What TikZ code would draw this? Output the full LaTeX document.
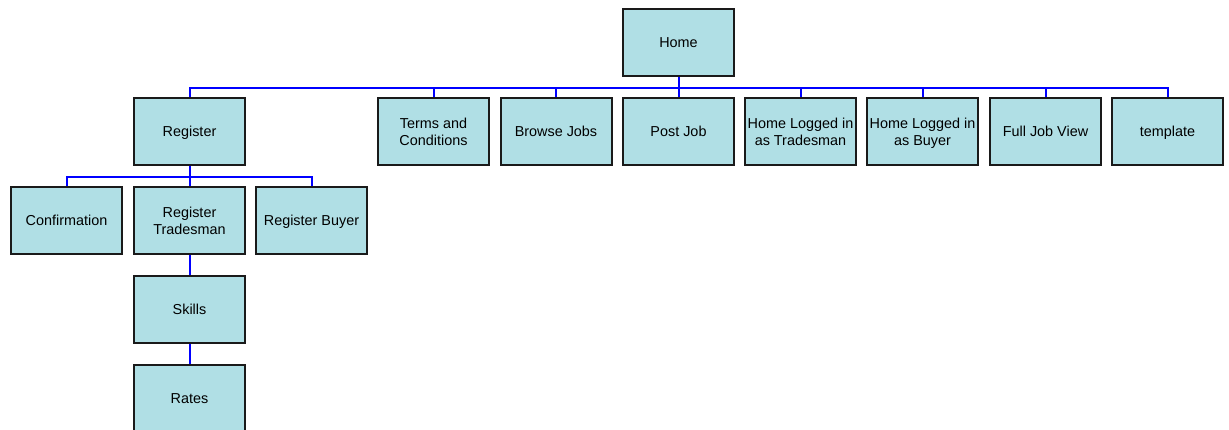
\documentclass[tikz,border=0pt]{standalone}
\usepackage{fontspec}
\setmainfont{Liberation Sans}
\definecolor{boxfill}{HTML}{B0DFE5}
\definecolor{boxline}{HTML}{1A1A1A}
\definecolor{conn}{HTML}{0000FF}
\newcommand{\lstrut}{\rule[-3.1pt]{0pt}{17pt}}
\newcommand{\lbl}[1]{\lstrut#1\lstrut}
\begin{document}
\begin{tikzpicture}[x=1pt,y=1pt,
  pagebox/.style={draw=boxline, line width=2pt, fill=boxfill, minimum width=111pt, minimum height=67pt, inner sep=0pt, align=center, font=\fontsize{14.4}{17}\selectfont},
  link/.style={draw=conn, line width=2pt}]
\useasboundingbox (0,0) rectangle (1229,-430);
\node[pagebox] (home) at (678.5,-42.5) {\lbl{Home}};
\node[pagebox] (register) at (189.5,-131.5) {\lbl{Register}};
\node[pagebox] (terms) at (433.5,-131.5) {\lbl{Terms and}\\\lbl{Conditions}};
\node[pagebox] (browse) at (556,-131.5) {\lbl{Browse Jobs}};
\node[pagebox] (post) at (678.5,-131.5) {\lbl{Post Job}};
\node[pagebox] (hlt) at (800.5,-131.5) {\lbl{Home Logged in}\\\lbl{as Tradesman}};
\node[pagebox] (hlb) at (922.5,-131.5) {\lbl{Home Logged in}\\\lbl{as Buyer}};
\node[pagebox] (full) at (1045.5,-131.5) {\lbl{Full Job View}};
\node[pagebox] (tmpl) at (1167.5,-131.5) {\lbl{template}};
\node[pagebox] (conf) at (66.5,-220.5) {\lbl{Confirmation}};
\node[pagebox] (regt) at (189.5,-220.5) {\lbl{Register}\\\lbl{Tradesman}};
\node[pagebox] (regb) at (311.5,-220.5) {\lbl{Register Buyer}};
\node[pagebox] (skills) at (189.5,-309.5) {\lbl{Skills}};
\node[pagebox] (rates) at (189.5,-398.5) {\lbl{Rates}};
\foreach \c in {register,terms,browse,post,hlt,hlb,full,tmpl}
  \draw[link] (home.south) -- ++(0,-11) -| (\c.north);
\foreach \c in {conf,regt,regb}
  \draw[link] (register.south) -- ++(0,-11) -| (\c.north);
\draw[link] (regt.south) -- (skills.north);
\draw[link] (skills.south) -- (rates.north);
\end{tikzpicture}
\end{document}
